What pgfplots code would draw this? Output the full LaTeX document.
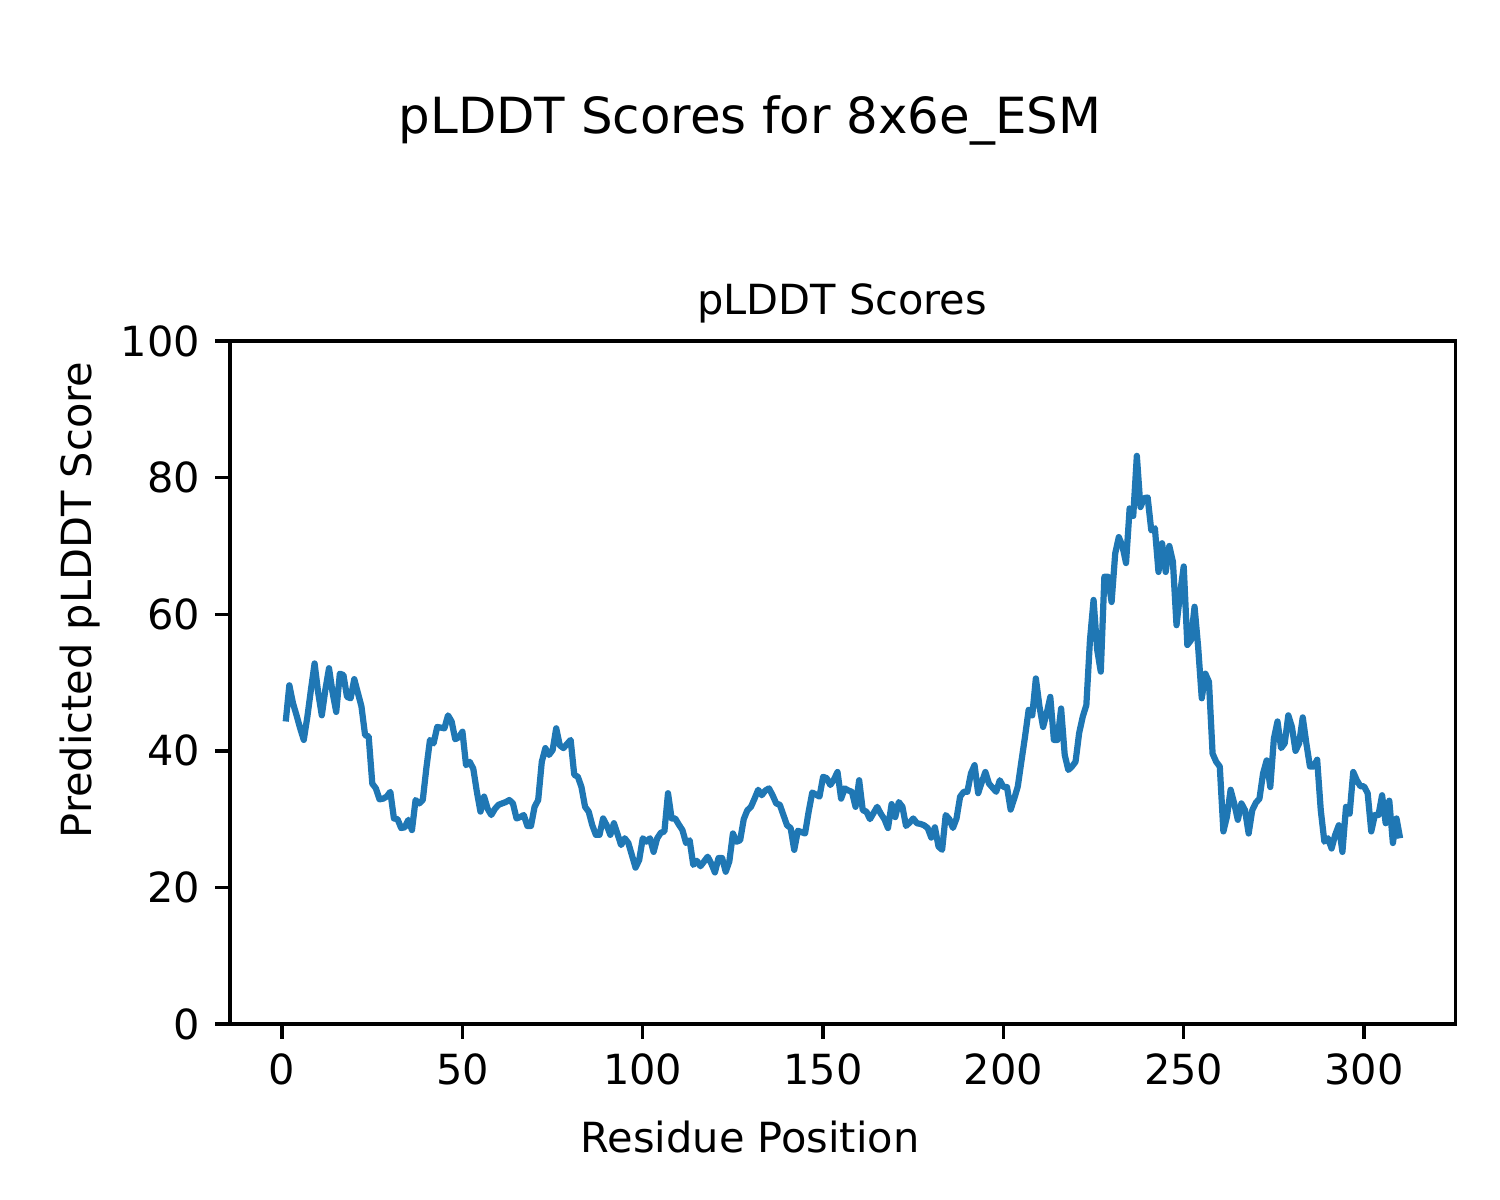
\documentclass[border=0pt]{standalone}
\usepackage{fontspec}
\setmainfont{DejaVu Sans}
\usepackage{pgfplots}
\pgfplotsset{compat=1.18}
\usepackage{pgfplotstable}
\definecolor{mplblue}{HTML}{1F77B4}
\pgfplotstableread{
res score
1 44.3
2 49.6
3 47.0
4 45.2
5 43.3
6 41.6
7 45.0
8 49.0
9 52.8
10 48.5
11 45.2
12 49.0
13 52.1
14 48.5
15 45.7
16 51.3
17 51.1
18 47.9
19 47.7
20 50.5
21 48.5
22 46.5
23 42.3
24 42.1
25 35.2
26 34.5
27 32.9
28 33.0
29 33.3
30 34.0
31 30.1
32 30.0
33 28.7
34 28.8
35 29.9
36 28.4
37 32.8
38 32.3
39 32.8
40 37.5
41 41.6
42 41.1
43 43.5
44 43.4
45 43.3
46 45.2
47 44.3
48 41.7
49 42.0
50 42.8
51 37.9
52 38.4
53 37.4
54 34.0
55 31.1
56 33.3
57 31.5
58 30.6
59 31.5
60 32.1
61 32.3
62 32.5
63 32.8
64 32.3
65 30.1
66 30.3
67 30.6
68 29.0
69 29.0
70 31.8
71 32.8
72 38.4
73 40.4
74 39.4
75 40.1
76 43.3
77 40.8
78 40.4
79 41.0
80 41.6
81 36.5
82 36.2
83 34.7
84 31.8
85 31.1
86 29.1
87 27.7
88 27.7
89 30.1
90 29.1
91 27.7
92 29.4
93 27.8
94 26.2
95 27.2
96 26.5
97 24.7
98 22.9
99 24.0
100 27.2
101 26.7
102 27.2
103 25.2
104 27.2
105 28.0
106 28.2
107 33.8
108 30.1
109 30.1
110 29.2
111 28.4
112 26.5
113 26.9
114 23.3
115 23.9
116 23.1
117 23.8
118 24.5
119 23.5
120 22.2
121 24.3
122 24.3
123 22.3
124 23.8
125 27.9
126 26.7
127 26.9
128 30.0
129 31.3
130 31.8
131 33.0
132 34.3
133 33.5
134 34.2
135 34.5
136 33.5
137 32.3
138 32.1
139 30.6
140 29.1
141 28.7
142 25.5
143 28.3
144 28.1
145 27.9
146 31.1
147 33.9
148 33.6
149 33.3
150 36.2
151 36.0
152 35.0
153 35.8
154 36.9
155 33.0
156 34.5
157 34.2
158 34.0
159 31.8
160 35.7
161 31.3
162 31.1
163 30.0
164 30.9
165 31.8
166 30.8
167 30.0
168 28.7
169 32.2
170 30.3
171 32.5
172 31.8
173 29.0
174 29.5
175 30.1
176 29.4
177 29.3
178 29.1
179 28.7
180 27.3
181 28.8
182 26.0
183 25.5
184 30.6
185 30.0
186 28.7
187 30.1
188 33.3
189 34.0
190 34.0
191 36.7
192 37.9
193 33.8
194 35.4
195 36.9
196 35.2
197 34.6
198 34.0
199 35.7
200 34.7
201 34.7
202 31.4
203 33.0
204 34.8
205 38.5
206 42.1
207 46.0
208 45.2
209 50.6
210 46.5
211 43.5
212 45.5
213 47.9
214 41.6
215 41.6
216 46.2
217 39.4
218 37.2
219 37.7
220 38.4
221 42.6
222 45.0
223 46.7
224 56.2
225 62.1
226 54.8
227 51.6
228 65.5
229 65.5
230 61.8
231 68.9
232 71.3
233 70.0
234 67.5
235 75.5
236 74.4
237 83.2
238 75.7
239 77.0
240 77.1
241 72.3
242 72.6
243 66.2
244 70.4
245 66.2
246 70.0
247 67.7
248 58.4
249 63.1
250 67.0
251 55.5
252 56.2
253 61.1
254 55.2
255 47.7
256 51.3
257 50.1
258 39.6
259 38.4
260 37.7
261 28.2
262 30.4
263 34.3
264 32.3
265 29.9
266 32.3
267 31.3
268 27.9
269 31.3
270 32.4
271 33.0
272 36.7
273 38.6
274 34.7
275 41.8
276 44.3
277 40.4
278 41.1
279 45.2
280 43.5
281 40.0
282 41.1
283 44.9
284 41.1
285 37.7
286 37.7
287 38.7
288 31.3
289 26.7
290 27.2
291 25.7
292 27.7
293 29.1
294 25.2
295 31.8
296 30.8
297 36.9
298 35.7
299 34.8
300 34.8
301 33.8
302 28.2
303 30.6
304 30.6
305 33.5
306 29.4
307 32.7
308 26.5
309 30.1
310 27.2
}\plddt
\begin{document}
\begin{tikzpicture}
\begin{axis}[
  at={(55.41pt,42.40pt)}, anchor=south west,
  scale only axis, width=295.3pt, height=164.5pt,
  xmin=-14.45, xmax=325.45, ymin=0, ymax=100,
  xtick={0,50,100,150,200,250,300},
  ytick={0,20,40,60,80,100},
  tick align=outside, tick pos=left,
  major tick length=3.5pt,
  axis line style={line width=0.8pt, black},
  every tick/.style={black, line width=0.8pt},
  /pgf/number format/assume math mode=true,
  tick label style={font=\fontsize{10}{12}\selectfont},
  xticklabel style={inner sep=0pt, anchor=north, yshift=-3.5pt},
  yticklabel style={inner sep=0pt, anchor=east, xshift=-3.5pt},
]
\addplot[color=mplblue, line width=1.5pt, line join=round, mark=none] table[x=res, y=score] {\plddt};
\end{axis}
\node[anchor=base, font=\fontsize{10}{12}\selectfont] at (202.84pt,213.2pt) {pLDDT Scores};
\node[anchor=base, font=\fontsize{12}{14.4}\selectfont] at (180.68pt,257.0pt) {pLDDT Scores for 8x6e\_ESM};
\node[anchor=base, font=\fontsize{10}{12}\selectfont] at (180.68pt,11.4pt) {Residue Position};
\node[anchor=base, rotate=90, font=\fontsize{10}{12}\selectfont] at (22.16pt,144.54pt) {Predicted pLDDT Score};
\pgfresetboundingbox
\path[use as bounding box] (0,0) rectangle (361.35pt,289.08pt);
\end{tikzpicture}
\end{document}
